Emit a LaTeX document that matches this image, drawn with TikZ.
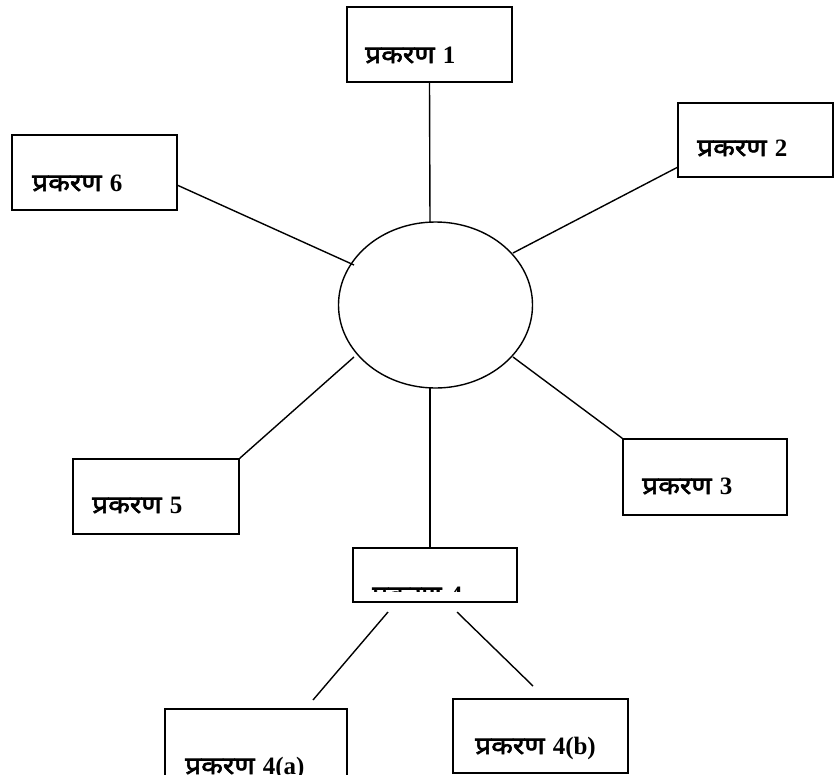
\documentclass[tikz,border=0pt]{standalone}
\usepackage{fontspec}
\usetikzlibrary{shapes.geometric}
\newfontfamily\deva[Script=Devanagari, FakeBold=2.4, FakeStretch=1.15]{Noto Sans}
\newfontfamily\numfont{Liberation Serif}
\newcommand\prk[1]{{\deva\fontsize{24.5}{28}\selectfont प्रकरण}\hspace{8pt}{\numfont\bfseries\fontsize{25}{28}\selectfont #1}}
\begin{document}
\begin{tikzpicture}[x=1pt,y=-1pt,
  box/.style={draw, line width=1.5pt, inner sep=0pt},
  lbl/.style={anchor=base west, inner sep=0pt},
  link/.style={line width=1.4pt}]
\useasboundingbox (0,0) rectangle (835,774);
\clip (0,0) rectangle (835,774);

% central ellipse
\node[draw, ellipse, line width=1.4pt, minimum width=194pt, minimum height=166pt, inner sep=0pt] (e) at (435.5,305) {};

% topic boxes
\node[box, minimum width=165pt, minimum height=75pt] (b1) at (429.5,44.5) {};
\node[box, minimum width=155pt, minimum height=74pt] (b2) at (755.5,140) {};
\node[box, minimum width=164pt, minimum height=76pt] (b3) at (705,477) {};
\node[box, minimum width=164pt, minimum height=54pt] (b4) at (435,575) {};
\node[box, minimum width=166pt, minimum height=75pt] (b5) at (156,496.5) {};
\node[box, minimum width=165pt, minimum height=75pt] (b6) at (94.5,172.5) {};
\node[box, minimum width=182pt, minimum height=81pt] (b4a) at (256,749.5) {};
\node[box, minimum width=175pt, minimum height=74pt] (b4b) at (540.5,736) {};

% labels
\node[lbl] (t1) at (365,63) {\prk{1}};
\node[lbl] (t2) at (697,156) {\prk{2}};
\node[lbl] (t3) at (642,494) {\prk{3}};
\node[lbl] (t5) at (92,513) {\prk{5}};
\node[lbl] (t6) at (32,191) {\prk{6}};
\node[lbl] (t4a) at (185,774) {\prk{4(a)}};
\node[lbl] (t4b) at (475,754) {\prk{4(b)}};
\begin{scope}
  \clip (355,585) rectangle (515,591);
  \node[lbl] (t4) at (372,603) {\prk{4}};
\end{scope}

% connector ends
\coordinate (e1) at (430,222);
\coordinate (e2) at (513,253);
\coordinate (e3) at (513,357);
\coordinate (e4) at (430,388);
\coordinate (e5) at (354,357);
\coordinate (e6) at (354,265);
\coordinate (s2) at (678,167);
\coordinate (s6) at (177,185);
\coordinate (s4) at (430,548);
\coordinate (qa1) at (388,612);
\coordinate (qa2) at (313,700);
\coordinate (qb1) at (457,612);
\coordinate (qb2) at (533,686);

% connectors
\draw[link] (b1.south) -- (e1);
\draw[link] (s2) -- (e2);
\draw[link] (b3.north west) -- (e3);
\draw[link] (e4) -- (s4);
\draw[link] (b5.north east) -- (e5);
\draw[link] (s6) -- (e6);
\draw[link] (qa1) -- (qa2);
\draw[link] (qb1) -- (qb2);
\end{tikzpicture}
\end{document}
